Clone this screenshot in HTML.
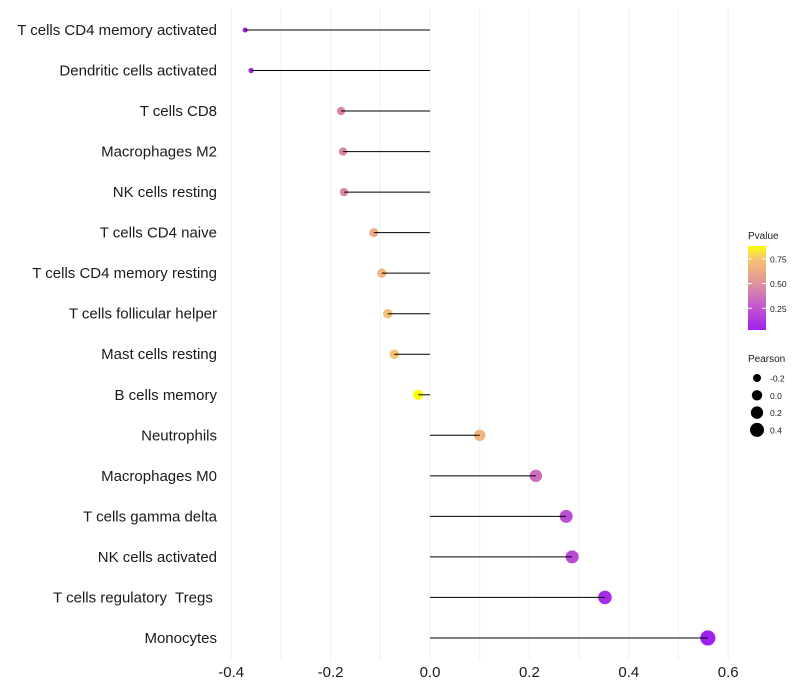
<!DOCTYPE html>
<html><head><meta charset="utf-8"><style>
body{margin:0;background:#fff;font-family:"Liberation Sans",sans-serif}
svg{display:block}
text{white-space:pre}
</style></head><body>
<svg id="chart" width="800" height="700"></svg>
<script>
const categories=["T cells CD4 memory activated","Dendritic cells activated","T cells CD8","Macrophages M2","NK cells resting","T cells CD4 naive","T cells CD4 memory resting","T cells follicular helper","Mast cells resting","B cells memory","Neutrophils","Macrophages M0","T cells gamma delta","NK cells activated","T cells regulatory  Tregs ","Monocytes"];
const pearson=[-0.372,-0.36,-0.179,-0.175,-0.173,-0.113,-0.097,-0.085,-0.072,-0.024,0.10,0.213,0.274,0.286,0.352,0.559];
const pvalues=[0.03,0.05,0.45,0.45,0.45,0.63,0.68,0.72,0.74,0.88,0.67,0.35,0.22,0.2,0.08,0.03];
const xTicks=[-0.4,-0.2,0,0.2,0.4,0.6];
const xMinor=[-0.3,-0.1,0.1,0.3,0.5];
const pvTicks=[0.25,0.5,0.75];
const sizeTicks=[-0.2,0,0.2,0.4];

const NS="http://www.w3.org/2000/svg";
const svg=document.getElementById('chart');
function mk(t,a,p){const e=document.createElementNS(NS,t);for(const k in a)e.setAttribute(k,a[k]);(p||svg).appendChild(e);return e;}
const x=v=>430+v*497;
const y=i=>30+i*40.53;
const r=v=>Math.sqrt(Math.max(2,27+55*v));
const stops=[[0.03,[160,32,240]],[0.3,[200,96,200]],[0.45,[216,136,168]],[0.65,[240,176,128]],[0.76,[245,200,112]],[0.88,[255,255,0]]];
function col(p){p=Math.max(0.03,Math.min(0.88,p));
for(let i=0;i<stops.length-1;i++){const [a,ca]=stops[i],[b,cb]=stops[i+1];if(p<=b){const t=(p-a)/(b-a);return 'rgb('+ca.map((c,k)=>Math.round(c+(cb[k]-c)*t))+')';}}
return 'rgb(255,255,0)';}

const grid=mk('g',{});
xTicks.concat(xMinor).forEach(v=>{mk('line',{x1:x(v),x2:x(v),y1:8,y2:660,stroke:'#f0f0f0','stroke-width':1},grid);});
categories.forEach((c,i)=>{
  const t=mk('text',{x:217,y:y(i)+5,'text-anchor':'end','font-size':15,fill:'#1a1a1a'});t.textContent=c;
  
  const d=mk('circle',{cx:x(pearson[i]),cy:y(i),r:r(pearson[i]),fill:col(pvalues[i])});
  
  const l=mk('line',{x1:x(0),x2:x(pearson[i]),y1:y(i),y2:y(i),stroke:'#000','stroke-width':1});
  
});
xTicks.forEach(v=>{const t=mk('text',{x:x(v),y:677,'text-anchor':'middle','font-size':15,fill:'#1a1a1a'});t.textContent=(v===0?'0.0':v.toFixed(1));
});

// Pvalue legend
const lt=mk('text',{x:748,y:239,'font-size':10,fill:'#1a1a1a'});lt.textContent='Pvalue';

const defs=mk('defs',{});const lg=mk('linearGradient',{id:'pg',x1:0,y1:1,x2:0,y2:0},defs);
for(let s=0;s<=20;s++){mk('stop',{offset:s/20,'stop-color':col(0.03+0.85*s/20)},lg);}
const bar=mk('rect',{x:748,y:246,width:18,height:84,fill:'url(#pg)'});

const py=p=>330-(p-0.03)/0.85*84;
pvTicks.forEach(p=>{mk('line',{x1:748,x2:752,y1:py(p),y2:py(p),stroke:'#fff'});mk('line',{x1:762,x2:766,y1:py(p),y2:py(p),stroke:'#fff'});
const t=mk('text',{x:770,y:py(p)+3.5,'font-size':8.5,fill:'#1a1a1a'});t.textContent=p.toFixed(2);
});
// Pearson legend
const st=mk('text',{x:748,y:362,'font-size':10,fill:'#1a1a1a'});st.textContent='Pearson';

sizeTicks.forEach((v,i)=>{const cy=378+i*17.3;const c=mk('circle',{cx:757,cy:cy,r:r(v),fill:'#000'});

const t=mk('text',{x:770,y:cy+3.5,'font-size':8.5,fill:'#1a1a1a'});t.textContent=(v===0?'0.0':v.toFixed(1));
});
</script>
</body></html>
